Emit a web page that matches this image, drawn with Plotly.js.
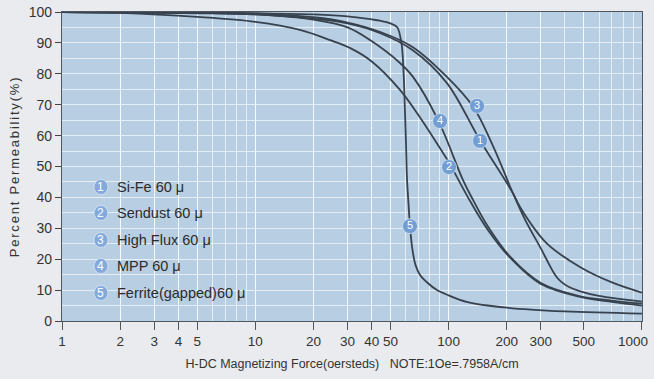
<!DOCTYPE html>
<html>
<head>
<meta charset="utf-8">
<script src="https://cdn.plot.ly/plotly-3.0.1.min.js"></script>
<style>
  html, body { margin: 0; padding: 0; background: #e9ebef; }
  #chart { width: 654px; height: 379px; }
  .g-ytitle text { letter-spacing: 1.8px; }
</style>
</head>
<body>
<div id="chart"></div>
<script>
// ---- Data ----
const siFeX = [1, 2, 5, 10, 20, 30, 44, 65, 98, 145, 215, 234, 321, 478, 700, 1000];
const siFeY = [100, 99.9, 99.6, 99.2, 97.8, 96.3, 93.2, 87.7, 77, 58.6, 41.4, 36.9, 25.2, 17.5, 12.5, 9.2];

const sendustX = [1, 2, 5, 10, 17, 24.4, 31, 40, 56, 70, 93.5, 100, 130, 160, 208, 300, 480, 700, 1000];
const sendustY = [100, 99.7, 98.4, 96.8, 94.2, 90.9, 88.3, 84, 74.8, 66.5, 54.4, 51.5, 38.5, 29.4, 20.5, 12, 7.8, 6.2, 5.0];

const highFluxX = [1, 2, 5, 10, 20, 30, 44, 65, 98, 134, 170, 215, 250, 300, 330, 355, 380, 420, 480, 600, 1000];
const highFluxY = [100, 99.9, 99.7, 99.4, 98.3, 96.6, 93.6, 88.7, 79, 69.3, 56.5, 41.4, 32.5, 23.5, 18.5, 15, 12.8, 11, 9.6, 8.1, 6.3];

const mppX = [1, 5, 10, 20, 30, 39.2, 56, 65.4, 88.2, 118.7, 133.7, 160, 208, 300, 480, 700, 1000];
const mppY = [100, 99.7, 99.2, 97.5, 95, 90.9, 83.5, 79, 65, 45.6, 39.2, 30.5, 20.8, 12.3, 8.0, 6.6, 5.6];

const ferriteX = [1, 5, 10, 20, 30, 40, 44, 50, 54.3, 56, 57.3, 58.5, 59.3, 60.2, 60.9, 62, 63.1, 65, 67.5, 71, 78, 87, 100, 124, 200, 400, 1000];
const ferriteY = [100, 99.8, 99.6, 99.2, 98.6, 97.6, 97.2, 96.3, 95, 92.5, 89, 80, 70, 57, 46, 38, 30.7, 23, 18, 15, 12.3, 10, 8.3, 6.2, 4.3, 3.1, 2.4];

const badgeNums = ['3', '4', '1', '2', '5'];
const badgeX = [140.3, 90.3, 145.4, 100.5, 63.1];
const badgeY = [69.6, 64.7, 58.3, 49.8, 30.7];

const legendNums = ['1', '2', '3', '4', '5'];
const legendNames = ['Si-Fe 60 \u03bc', 'Sendust 60 \u03bc', 'High Flux 60 \u03bc', 'MPP 60 \u03bc', 'Ferrite(gapped)60 \u03bc'];

const xTickVals = [1, 2, 3, 4, 5, 10, 20, 30, 40, 50, 100, 200, 300, 500, 1000];
const xTickText = ['1', '2', '3', '4', '5', '10', '20', '30', '40', '50', '100', '200', '300', '500', ''];
const lastTickLabel = '1000';
const xGridVals = [1,2,3,4,5,6,7,8,9,10,20,30,40,50,60,70,80,90,100,200,300,400,500,600,700,800,900,1000];

// ---- Styles ----
const FONT = '"Liberation Sans", Arial, sans-serif';
const curveColor = '#37424e';
const badgeColor = '#729ed3';

function curve(x, y, shape) {
  return {
    x: x, y: y, type: 'scatter', mode: 'lines',
    line: { color: curveColor, width: 1.8, shape: shape, smoothing: 1 },
    hoverinfo: 'skip', showlegend: false
  };
}

const traces = [
  curve(siFeX, siFeY, 'spline'),
  curve(sendustX, sendustY, 'spline'),
  curve(highFluxX, highFluxY, 'spline'),
  curve(mppX, mppY, 'spline'),
  curve(ferriteX, ferriteY, 'spline'),
  {
    x: badgeX, y: badgeY, type: 'scatter', mode: 'markers+text',
    text: badgeNums, textposition: 'middle center',
    textfont: { color: '#ffffff', size: 11, family: FONT },
    marker: { size: 15, color: badgeColor, line: { color: 'rgba(230,240,250,0.6)', width: 1 } },
    hoverinfo: 'skip', showlegend: false, cliponaxis: false
  }
];

// legend rows (paper coords)
const rowY = [0.4337, 0.3495, 0.2621, 0.178, 0.0906];
const shapes = [];
const annotations = [];
legendNums.forEach((n, i) => {
  shapes.push({
    type: 'circle', xref: 'paper', yref: 'paper',
    xsizemode: 'pixel', ysizemode: 'pixel',
    xanchor: 0.0672, yanchor: rowY[i],
    x0: -7, x1: 7, y0: -7.5, y1: 7.5,
    fillcolor: '#84aadb', line: { color: 'rgba(235,242,250,0.6)', width: 1 }, layer: 'above'
  });
  annotations.push({
    xref: 'paper', yref: 'paper', x: 0.0672, y: rowY[i],
    xanchor: 'center', yanchor: 'middle', showarrow: false,
    text: n, font: { color: '#ffffff', size: 12, family: FONT }
  });
  annotations.push({
    xref: 'paper', yref: 'paper', x: 0.0914, y: rowY[i],
    xanchor: 'left', yanchor: 'middle', showarrow: false,
    text: legendNames[i], font: { color: '#2b2b2b', size: 14.5, family: FONT }
  });
});
// last x tick label, kept inside the picture like in the reference
annotations.push({
  xref: 'x', yref: 'paper', x: Math.log10(xTickVals[xTickVals.length - 1]), y: 0,
  xanchor: 'right', yanchor: 'top', xshift: 8, yshift: -11, showarrow: false,
  text: lastTickLabel, font: { size: 13.5, color: '#333333', family: FONT }
});

const layout = {
  width: 654, height: 379,
  margin: { l: 62, r: 12, t: 12, b: 58 },
  paper_bgcolor: '#e9ebef',
  plot_bgcolor: '#b7cee3',
  font: { family: FONT, color: '#333333' },
  xaxis: {
    type: 'log', range: [-0.0005, 3.0005],
    tickmode: 'array', tickvals: xTickVals, ticktext: xTickText,
    ticks: 'outside', ticklen: 8, tickcolor: '#555555', tickwidth: 1,
    tickfont: { size: 13.5, color: '#333333', family: FONT },
    showgrid: true, gridcolor: 'rgba(255,255,255,0.65)', gridwidth: 1,
    minor: { tickmode: 'array', tickvals: xGridVals, showgrid: true, gridcolor: 'rgba(255,255,255,0.65)', gridwidth: 1, ticks: '' },
    showline: true, linecolor: '#4e5660', linewidth: 1.2, mirror: true,
    zeroline: false,
    title: { text: 'H-DC Magnetizing Force(oersteds)\u00a0\u00a0\u00a0NOTE:1Oe=.7958A/cm', font: { size: 12.5, color: '#333333', family: FONT }, standoff: 10 }
  },
  yaxis: {
    range: [0, 100], tickmode: 'linear', tick0: 0, dtick: 10,
    ticks: 'outside', ticklen: 6, tickcolor: '#444444', tickwidth: 1,
    tickfont: { size: 14, color: '#333333', family: FONT },
    showgrid: true, gridcolor: 'rgba(255,255,255,0.65)', gridwidth: 1,
    minor: { dtick: 5, showgrid: true, gridcolor: 'rgba(255,255,255,0.65)', gridwidth: 1, ticks: '' },
    showline: true, linecolor: '#4e5660', linewidth: 1.2, mirror: true,
    zeroline: false,
    title: { text: 'Percent Permeability(%)', font: { size: 13, color: '#333333', family: FONT }, standoff: 6 }
  },
  shapes: shapes,
  annotations: annotations
};

Plotly.newPlot('chart', traces, layout, { displayModeBar: false, staticPlot: true });
</script>
</body>
</html>
